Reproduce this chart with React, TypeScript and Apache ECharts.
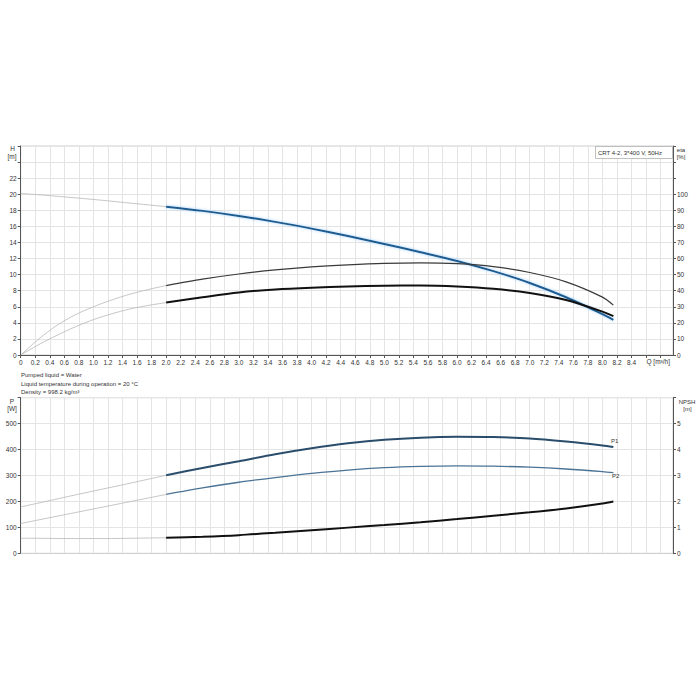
import React, { useEffect, useRef } from "react";
import * as echarts from "echarts";

// Flow rates (m³/h)
const qThin = [0, 0.25, 0.5, 0.75, 1.0, 1.25, 1.5, 1.75, 2.0];
const qMain = [2.0, 2.5, 3.0, 3.5, 4.0, 4.5, 5.0, 5.5, 6.0, 6.5, 7.0, 7.5, 8.0, 8.15];

// Head H [m]
const hThin = [20.1, 19.93, 19.75, 19.55, 19.35, 19.13, 18.9, 18.68, 18.45];
const hMain = [18.45, 17.93, 17.3, 16.56, 15.72, 14.8, 13.81, 12.78, 11.7, 10.43, 8.96, 7.18, 5.08, 4.38];

// Efficiencies [%]
const etaPumpThin = [0, 10, 18.5, 25, 30, 34.2, 37.8, 40.7, 43.2];
const etaPumpMain = [43.2, 47.2, 50.4, 52.9, 54.8, 56.1, 57.0, 57.3, 56.8, 55.0, 51.3, 45.5, 36.0, 31.0];
const etaTotalThin = [0, 6.5, 12.3, 17.5, 22, 25.6, 28.6, 30.8, 32.6];
const etaTotalMain = [32.6, 35.9, 38.9, 40.8, 41.9, 42.6, 43.1, 43.2, 42.6, 41.2, 38.6, 34.2, 27.0, 24.2];

// Power [W]
const p1Thin = [179, 194, 209.5, 225, 240, 255, 270, 285.5, 301];
const p1Main = [301, 329, 355, 382, 405, 424, 438, 446, 449, 448, 443, 431, 416, 410];
const p2Thin = [115, 129, 143, 157, 171, 185, 199, 213, 227];
const p2Main = [227, 252, 274, 292, 308, 321, 330, 335, 337, 336, 332, 325, 315, 311];

// NPSH [m]
const npshThin = [0.58, 0.58, 0.57, 0.57, 0.57, 0.57, 0.58, 0.59, 0.6];
const npshMain = [0.6, 0.64, 0.7, 0.79, 0.89, 0.99, 1.09, 1.2, 1.32, 1.45, 1.58, 1.73, 1.92, 2.0];

const notes = [
  "Pumped liquid = Water",
  "Liquid temperature during operation = 20 °C",
  "Density = 998.2 kg/m³",
];
const title = "CRT 4-2, 3*400 V, 50Hz";

const FONT = "'Liberation Sans', Arial, sans-serif";
const pairs = (q: number[], v: number[]) => q.map((x, i) => [x, v[i]]);

const thinStyle = { color: "#b8b8b8", width: 0.8 };

function line(name: string, xi: number, yi: number, data: number[][], style: any) {
  return {
    name,
    type: "line",
    xAxisIndex: xi,
    yAxisIndex: yi,
    data,
    smooth: 0.3,
    symbol: "none",
    showSymbol: false,
    lineStyle: style,
    z: 5,
  };
}

export default function App() {
  const ref = useRef<HTMLDivElement>(null);
  useEffect(() => {
    if (!ref.current) return;
    const chart = echarts.init(ref.current, null, { renderer: "svg" });
    const axisLineC = "#555";
    const labelStyle = { fontSize: 6.5, color: "#333", fontFamily: FONT };
    const split = { show: true, lineStyle: { color: "#e4e4e4", width: 1 } };
    const txt = (x: number, y: number, t: string, align = "left", size = 6) => ({
      type: "text",
      x,
      y,
      style: { text: t, fill: "#333", fontSize: size, fontFamily: FONT, align, verticalAlign: "middle" },
      z: 10,
    });
    const option: any = {
      animation: false,
      backgroundColor: "#fff",
      textStyle: { fontFamily: FONT },
      grid: [
        { left: 20.7, top: 146, width: 652.3, height: 209, show: true, borderColor: "#d0d0d0", borderWidth: 1 },
        { left: 20.7, top: 397.7, width: 652.3, height: 155.6, show: true, borderColor: "#d0d0d0", borderWidth: 1 },
      ],
      xAxis: [
        {
          gridIndex: 0,
          type: "value",
          min: 0,
          max: 8.97,
          interval: 0.2,
          axisLine: { show: true, onZero: false, lineStyle: { color: axisLineC, width: 1 } },
          axisTick: { show: true, length: 3, lineStyle: { color: axisLineC } },
          axisLabel: {
            ...labelStyle,
            margin: 4,
            showMaxLabel: false,
            formatter: (v: number) => (v > 8.45 ? "" : v === 0 ? "0" : v.toFixed(1)),
          },
          splitLine: split,
        },
        {
          gridIndex: 1,
          type: "value",
          min: 0,
          max: 8.97,
          interval: 0.2,
          axisLine: { show: true, onZero: false, lineStyle: { color: "#cfcfcf", width: 1 } },
          axisTick: { show: false },
          axisLabel: { show: false },
          splitLine: split,
        },
      ],
      yAxis: [
        {
          gridIndex: 0,
          type: "value",
          min: 0,
          max: 26,
          interval: 2,
          axisLine: { show: true, lineStyle: { color: axisLineC, width: 1 } },
          axisTick: { show: true, length: 3, lineStyle: { color: axisLineC } },
          axisLabel: { ...labelStyle, margin: 4, formatter: (v: number) => (v <= 22 ? String(v) : "") },
          splitLine: split,
        },
        {
          gridIndex: 0,
          type: "value",
          position: "right",
          min: 0,
          max: 130,
          interval: 10,
          axisLine: { show: true, lineStyle: { color: axisLineC, width: 1 } },
          axisTick: { show: true, length: 3, lineStyle: { color: axisLineC } },
          axisLabel: { ...labelStyle, margin: 4, formatter: (v: number) => (v <= 100 ? String(v) : "") },
          splitLine: { show: false },
        },
        {
          gridIndex: 1,
          type: "value",
          min: 0,
          max: 600,
          interval: 100,
          axisLine: { show: true, lineStyle: { color: axisLineC, width: 1 } },
          axisTick: { show: true, length: 3, lineStyle: { color: axisLineC } },
          axisLabel: { ...labelStyle, margin: 4, formatter: (v: number) => (v <= 500 ? String(v) : "") },
          splitLine: split,
        },
        {
          gridIndex: 1,
          type: "value",
          position: "right",
          min: 0,
          max: 6,
          interval: 1,
          axisLine: { show: true, lineStyle: { color: axisLineC, width: 1 } },
          axisTick: { show: true, length: 3, lineStyle: { color: axisLineC } },
          axisLabel: { ...labelStyle, margin: 4, formatter: (v: number) => (v <= 5 ? String(v) : "") },
          splitLine: { show: false },
        },
      ],
      series: [
        line("H thin", 0, 0, pairs(qThin, hThin), thinStyle),
        line("H", 0, 0, pairs(qMain, hMain), {
          color: "#1f5b8f",
          width: 2,
          shadowColor: "rgba(120,190,255,0.7)",
          shadowBlur: 3,
        }),
        line("eta pump thin", 0, 1, pairs(qThin, etaPumpThin), thinStyle),
        line("eta pump", 0, 1, pairs(qMain, etaPumpMain), { color: "#3a3a3a", width: 1.2 }),
        line("eta total thin", 0, 1, pairs(qThin, etaTotalThin), thinStyle),
        line("eta total", 0, 1, pairs(qMain, etaTotalMain), { color: "#111", width: 2 }),
        line("P1 thin", 1, 2, pairs(qThin, p1Thin), thinStyle),
        line("P1", 1, 2, pairs(qMain, p1Main), { color: "#2b4d6c", width: 2 }),
        line("P2 thin", 1, 2, pairs(qThin, p2Thin), thinStyle),
        line("P2", 1, 2, pairs(qMain, p2Main), { color: "#4b7396", width: 1.3 }),
        line("NPSH thin", 1, 3, pairs(qThin, npshThin), thinStyle),
        line("NPSH", 1, 3, pairs(qMain, npshMain), { color: "#111", width: 2 }),
      ],
      graphic: [
        txt(12.5, 148.5, "H", "center", 6.5),
        txt(12, 156, "[m]", "center", 6.5),
        txt(681, 150, "eta", "center", 6),
        txt(681, 157, "[%]", "center", 6),
        txt(12, 401, "P", "center", 6.5),
        txt(12, 408, "[W]", "center", 6.5),
        txt(687, 401.5, "NPSH", "center", 6),
        txt(687.5, 408.5, "[m]", "center", 6),
        txt(646.5, 361.5, "Q [m³/h]", "left", 6.5),
        txt(21, 375, notes[0], "left", 6),
        txt(21, 383.5, notes[1], "left", 6),
        txt(21, 392, notes[2], "left", 6),
        {
          type: "rect",
          shape: { x: 595.5, y: 146.5, width: 77, height: 12 },
          style: { fill: "#fff", stroke: "#b0b0b0", lineWidth: 0.8 },
          z: 9,
        },
        txt(598, 152.5, title, "left", 6),
        txt(611, 440.5, "P1", "left", 6),
        txt(612, 475.5, "P2", "left", 6),
      ],
    };
    chart.setOption(option);
    return () => chart.dispose();
  }, []);
  return (
    <div
      ref={ref}
      style={{ position: "fixed", left: 0, top: 0, width: 700, height: 700, background: "#fff" }}
    />
  );
}
